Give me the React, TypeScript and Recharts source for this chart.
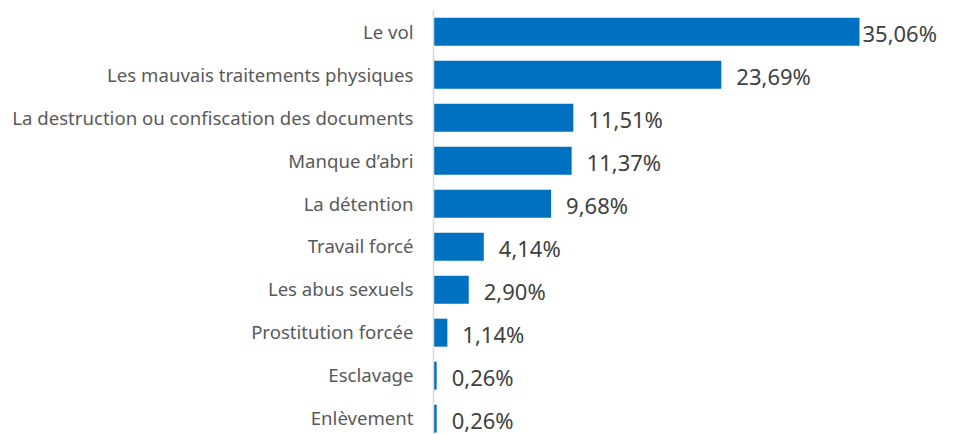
import React from 'react';
import { BarChart, Bar, XAxis, YAxis, LabelList } from 'recharts';

const categories = [
  'Le vol',
  'Les mauvais traitements physiques',
  'La destruction ou confiscation des documents',
  'Manque d’abri',
  'La détention',
  'Travail forcé',
  'Les abus sexuels',
  'Prostitution forcée',
  'Esclavage',
  'Enlèvement',
];

const shares = [35.06, 23.69, 11.51, 11.37, 9.68, 4.14, 2.9, 1.14, 0.26, 0.26];

const data = categories.map((name, i) => ({ name, value: shares[i] }));

const FONT = '"Noto Sans", "Open Sans", sans-serif';
const LABEL_LIMIT = 930; // right edge a value label may reach

const fmt = (v: number) => v.toFixed(2).replace('.', ',') + '%';

const ValueLabel = (props: any) => {
  const { x, y, width, height, value } = props;
  const text = fmt(value);
  const approxW = text.length * 12.5;
  let lx = x + width + 15;
  if (lx + approxW > LABEL_LIMIT) lx = x + width + 3;
  return (
    <text
      x={lx}
      y={y + height / 2 + 1}
      fill="#404040"
      fontSize={22}
      fontFamily={FONT}
      dominantBaseline="central"
    >
      {text}
    </text>
  );
};

const App: React.FC = () => {
  return (
    <div style={{ width: 951, height: 440 }}>
      <BarChart
        width={951}
        height={440}
        data={data}
        layout="vertical"
        margin={{ top: 2.5, right: 39.5, left: 0, bottom: 7.7 }}
        barCategoryGap="17%"
      >
        <XAxis type="number" domain={[0, 40]} hide />
        <YAxis
          type="category"
          dataKey="name"
          width={425.5}
          tickLine={false}
          tickSize={0}
          tickMargin={20}
          axisLine={{ stroke: '#d9d9d9', strokeWidth: 1.5 }}
          tick={{ fill: '#595959', fontSize: 18.6, fontFamily: FONT }}
          interval={0}
        />
        <Bar dataKey="value" fill="#0070c0" isAnimationActive={false}>
          <LabelList dataKey="value" content={<ValueLabel />} />
        </Bar>
      </BarChart>
    </div>
  );
};

export default App;
